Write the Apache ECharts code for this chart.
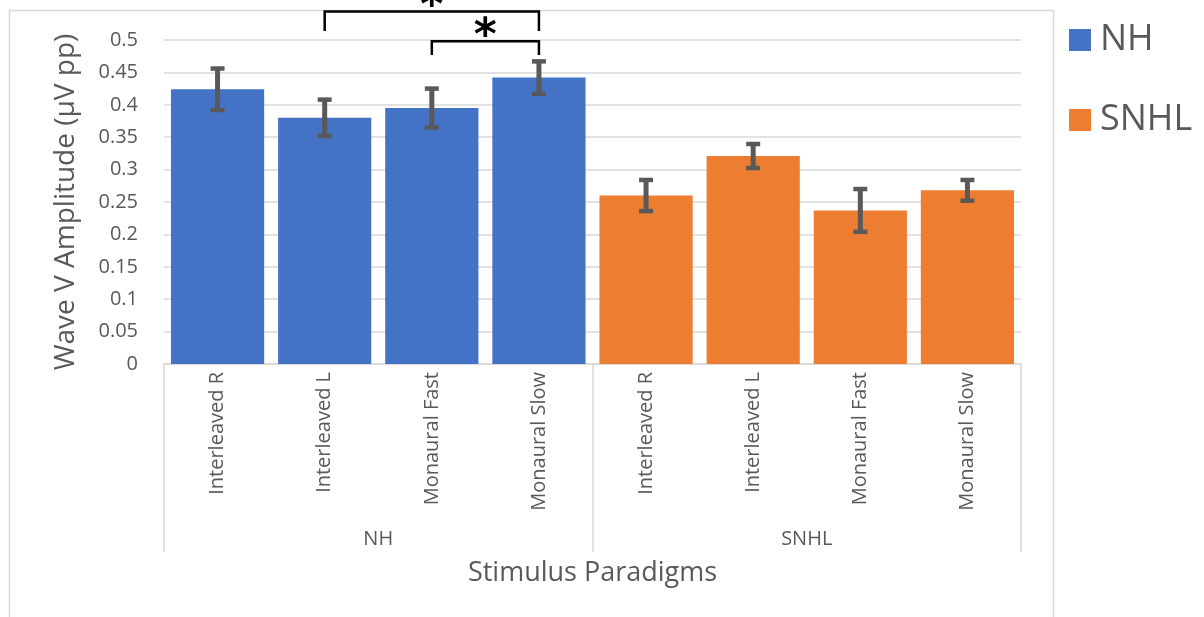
<!DOCTYPE html>
<html>
<head>
<meta charset="utf-8">
<script src="https://cdn.jsdelivr.net/npm/echarts@6/dist/echarts.min.js"></script>
<style>
  html, body { margin: 0; padding: 0; background: #fff; }
  #chart { width: 1204px; height: 617px; }
</style>
</head>
<body>
<div id="chart"></div>
<script>
// Stimulus paradigms, grouped by listener group
const paradigms = ['Interleaved R', 'Interleaved L', 'Monaural Fast', 'Monaural Slow'];
const groups = ['NH', 'SNHL'];

// Mean wave V amplitude (µV pp) and standard error per paradigm
const nhMeans = [0.424, 0.380, 0.395, 0.442];
const nhErrors = [0.032, 0.028, 0.030, 0.025];
const snhlMeans = [0.260, 0.321, 0.237, 0.268];
const snhlErrors = [0.024, 0.0185, 0.033, 0.016];

// Significance brackets: from / to bar index, leg bottom, bracket top, star height
const sigFrom = [1, 2];
const sigTo = [3, 3];
const sigLeg = [0.514, 0.477];
const sigTop = [0.544, 0.498];
const sigStar = [0.566, 0.519];

const FONT = '"Open Sans", "Noto Sans", sans-serif';
const TEXT = '#595959';
const GRID_LINE = '#d9d9d9';

const categories = groups.flatMap(() => paradigms);
const n = paradigms.length;
const nhSeries = categories.map((_, i) => (i < n ? nhMeans[i] : '-'));
const snhlSeries = categories.map((_, i) => (i >= n ? snhlMeans[i - n] : '-'));
const means = nhMeans.concat(snhlMeans);
const errs = nhErrors.concat(snhlErrors);
const errData = means.map((m, i) => [i, m - errs[i], m + errs[i]]);
const sigData = sigFrom.map((f, i) => [f, sigTo[i], sigLeg[i], sigTop[i], sigStar[i]]);

const chart = echarts.init(document.getElementById('chart'), null, { renderer: 'canvas' });

chart.setOption({
  animation: false,
  backgroundColor: '#fff',
  textStyle: { fontFamily: FONT },
  graphic: [{
    type: 'rect',
    shape: { x: 9.5, y: 10.5, width: 1044, height: 640 },
    style: { fill: 'none', stroke: GRID_LINE, lineWidth: 1.5 },
    silent: true,
    z: -10
  }],
  legend: {
    orient: 'vertical',
    left: 1064,
    top: 15,
    itemWidth: 22,
    itemHeight: 22,
    itemGap: 40,
    icon: 'rect',
    data: groups,
    textStyle: { fontSize: 36, color: TEXT, fontFamily: FONT, lineHeight: 40, padding: [0, 0, 0, 4] }
  },
  grid: { left: 164, right: 183, top: 40, bottom: 253, containLabel: false },
  xAxis: [{
    type: 'category',
    data: categories,
    axisLine: { show: true, lineStyle: { color: GRID_LINE, width: 1.5 } },
    axisTick: { show: false },
    axisLabel: {
      interval: 0,
      rotate: 90,
      margin: 8,
      fontSize: 20,
      color: TEXT,
      fontFamily: FONT
    }
  }, {
    type: 'category',
    data: groups,
    position: 'bottom',
    offset: 0,
    axisLine: { show: false },
    axisTick: {
      show: true,
      interval: 0,
      alignWithLabel: false,
      length: 188,
      lineStyle: { color: GRID_LINE, width: 1.5 }
    },
    axisLabel: { interval: 0, margin: 165, fontSize: 20, color: TEXT, fontFamily: FONT },
    name: 'Stimulus Paradigms',
    nameLocation: 'middle',
    nameGap: 196,
    nameTextStyle: { fontSize: 27, color: TEXT, fontFamily: FONT }
  }],
  yAxis: {
    type: 'value',
    min: 0,
    max: 0.5,
    interval: 0.05,
    axisLine: { show: false },
    axisTick: { show: false },
    splitLine: { lineStyle: { color: GRID_LINE, width: 1.5 } },
    axisLabel: {
      margin: 26,
      fontSize: 20,
      color: TEXT,
      fontFamily: FONT,
      formatter: v => String(+v.toFixed(2))
    },
    name: 'Wave V Amplitude (µV pp)',
    nameLocation: 'middle',
    nameRotate: 90,
    nameGap: 84,
    nameTextStyle: { fontSize: 28, color: TEXT, fontFamily: FONT }
  },
  series: [{
    name: 'NH',
    type: 'bar',
    data: nhSeries,
    barGap: '-100%',
    barCategoryGap: '13%',
    itemStyle: { color: '#4472C4' }
  }, {
    name: 'SNHL',
    type: 'bar',
    data: snhlSeries,
    barGap: '-100%',
    barCategoryGap: '13%',
    itemStyle: { color: '#ED7D31' }
  }, {
    name: 'error',
    type: 'custom',
    data: errData,
    z: 5,
    silent: true,
    renderItem: function (params, api) {
      const idx = api.value(0);
      const lo = api.coord([idx, api.value(1)]);
      const hi = api.coord([idx, api.value(2)]);
      const cap = 7;
      const style = { stroke: '#595959', lineWidth: 5 };
      const capStyle = { stroke: '#595959', lineWidth: 4.5 };
      return {
        type: 'group',
        children: [
          { type: 'line', shape: { x1: lo[0], y1: lo[1], x2: hi[0], y2: hi[1] }, style: style },
          { type: 'line', shape: { x1: hi[0] - cap, y1: hi[1], x2: hi[0] + cap, y2: hi[1] }, style: capStyle },
          { type: 'line', shape: { x1: lo[0] - cap, y1: lo[1], x2: lo[0] + cap, y2: lo[1] }, style: capStyle }
        ]
      };
    }
  }, {
    name: 'significance',
    type: 'custom',
    data: sigData,
    z: 6,
    silent: true,
    clip: false,
    renderItem: function (params, api) {
      const a = api.coord([api.value(0), api.value(3)]);
      const b = api.coord([api.value(1), api.value(3)]);
      const legY = api.coord([api.value(0), api.value(2)])[1];
      const starY = api.coord([api.value(0), api.value(4)])[1];
      const style = { stroke: '#000', lineWidth: 2.5, fill: 'none' };
      return {
        type: 'group',
        children: [
          {
            type: 'polyline',
            shape: { points: [[a[0], legY], [a[0], a[1]], [b[0], b[1]], [b[0], legY]] },
            style: style
          },
          {
            type: 'text',
            x: (a[0] + b[0]) / 2,
            y: starY + 10,
            style: {
              text: '*',
              fontSize: 44,
              fontWeight: 'bold',
              fontFamily: '"DejaVu Sans", sans-serif',
              fill: '#000',
              align: 'center',
              verticalAlign: 'middle'
            }
          }
        ]
      };
    }
  }]
});
</script>
</body>
</html>
